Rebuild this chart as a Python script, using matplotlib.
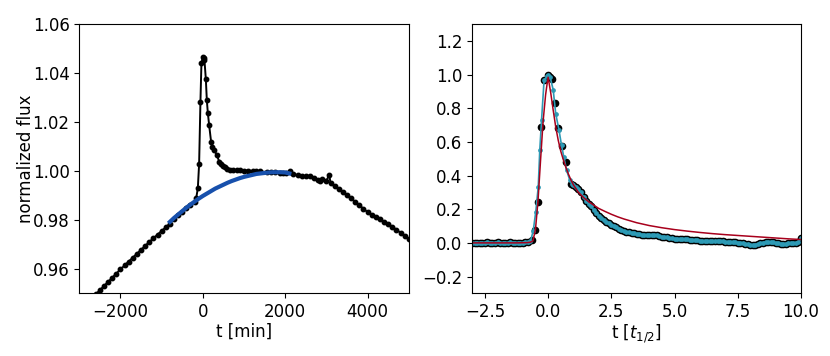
import numpy as np
import matplotlib
matplotlib.use("Agg")
import matplotlib.pyplot as plt
from matplotlib.ticker import MultipleLocator

# left panel: raw light curve [min] and normalized flux
t_left = [-2700, -2600, -2500, -2400, -2300, -2200, -2100, -2000, -1900, -1800,
          -1700, -1600, -1500, -1400, -1300, -1200, -1100, -1000, -900, -800,
          -700, -600, -500, -400, -300, -200, -160, -121, -90, -58,
          -34, 0, 20, 39, 73, 97, 121, 153, 201, 233,
          282, 340, 403, 450, 485, 530, 583, 650, 743, 820,
          905, 1000, 1100, 1228, 1300, 1400, 1553, 1650, 1750, 1876,
          1950, 2030, 2119, 2200, 2300, 2400, 2500, 2600, 2700, 2800,
          2850, 2900, 3000, 3070, 3100, 3200, 3300, 3400, 3500, 3600,
          3700, 3800, 3900, 4000, 4100, 4200, 4300, 4400, 4500, 4600,
          4700, 4800, 4900, 5000]
f_left = [0.9478, 0.9496, 0.9513, 0.9530, 0.9547, 0.9564, 0.9581, 0.9598, 0.9614, 0.9630,
          0.9646, 0.9662, 0.9678, 0.9694, 0.9710, 0.9725, 0.9740, 0.9755, 0.9770, 0.9785,
          0.9805, 0.9820, 0.9834, 0.9848, 0.9862, 0.9875, 0.9890, 0.9930, 1.0030, 1.0283,
          1.0440, 1.0464, 1.0462, 1.0454, 1.0375, 1.0290, 1.0238, 1.0188, 1.0119, 1.0098,
          1.0085, 1.0064, 1.0037, 1.0028, 1.0020, 1.0015, 1.0010, 1.0006, 1.0003, 1.0004,
          1.0003, 1.0002, 1.0002, 1.0000, 0.9999, 0.9998, 0.9996, 0.9995, 0.9994, 0.9992,
          0.9991, 0.9990, 1.0002, 0.9986, 0.9984, 0.9981, 0.9978, 0.9980, 0.9970, 0.9962,
          0.9958, 0.9966, 0.9960, 0.9985, 0.9950, 0.9937, 0.9927, 0.9914, 0.9902, 0.9888,
          0.9874, 0.9860, 0.9846, 0.9832, 0.9822, 0.9812, 0.9803, 0.9793, 0.9784, 0.9772,
          0.9760, 0.9748, 0.9736, 0.9723]

# quiescent fit under the flare
t_fit = [-800, -700, -600, -500, -400, -300, -200, -100, 0, 100,
         200, 300, 400, 500, 600, 700, 800, 900, 1000, 1100,
         1200, 1300, 1400, 1500, 1600, 1700, 1800, 1900, 2000, 2100]
f_fit = [0.9792, 0.9808, 0.9822, 0.9836, 0.9850, 0.9863, 0.9875, 0.9887, 0.9898, 0.9908,
         0.9918, 0.9928, 0.9936, 0.9944, 0.9952, 0.9959, 0.9965, 0.9971, 0.9976, 0.9980,
         0.9984, 0.9988, 0.9990, 0.9992, 0.9994, 0.9995, 0.9995, 0.9995, 0.9994, 0.9990]

# right panel: normalized flare, time in units of t_1/2
t_pre = [-3.0, -2.9, -2.8, -2.7, -2.6, -2.5, -2.4, -2.3, -2.2, -2.1, -2.0, -1.9,
         -1.8, -1.7, -1.6, -1.5, -1.4, -1.3, -1.2, -1.1, -1.0, -0.9, -0.8]
f_pre = [0.000, -0.002, 0.001, -0.003, -0.001, 0.002, 0.004, 0.001, -0.002, 0.000, 0.003, 0.002,
         -0.001, -0.003, 0.000, 0.005, 0.001, -0.002, -0.003, -0.001, 0.002, 0.004, 0.006]

t_peak_bin = [-0.655, -0.525, -0.42, -0.29, -0.16, 0.0, 0.08, 0.16, 0.28, 0.41, 0.55, 0.69, 0.92]
f_peak_bin = [0.016, 0.075, 0.244, 0.69, 0.967, 1.0, 0.985, 0.977, 0.83, 0.68, 0.575, 0.48, 0.35]

t_peak_fast = [-0.7, -0.59, -0.49, -0.39, -0.33, -0.26, -0.16, -0.05, 0.0, 0.08, 0.2, 0.30,
               0.43, 0.53, 0.62, 0.73, 0.86, 0.95]
f_peak_fast = [0.010, 0.07, 0.184, 0.333, 0.551, 0.729, 0.967, 0.99, 1.0, 0.985, 0.911, 0.769,
               0.67, 0.58, 0.511, 0.432, 0.372, 0.35]

t_tail = [1.0, 1.1, 1.2, 1.3, 1.4, 1.5, 1.6, 1.7, 1.8, 1.9,
          2.0, 2.1, 2.2, 2.3, 2.4, 2.5, 2.6, 2.7, 2.8, 2.9,
          3.0, 3.1, 3.2, 3.3, 3.4, 3.5, 3.6, 3.7, 3.8, 3.9,
          4.0, 4.1, 4.2, 4.3, 4.4, 4.5, 4.6, 4.7, 4.8, 4.9,
          5.0, 5.1, 5.2, 5.3, 5.4, 5.5, 5.6, 5.7, 5.8, 5.9,
          6.0, 6.1, 6.2, 6.3, 6.4, 6.5, 6.6, 6.7, 6.8, 6.9,
          7.0, 7.1, 7.2, 7.3, 7.4, 7.5, 7.6, 7.7, 7.8, 7.9,
          8.0, 8.1, 8.2, 8.3, 8.4, 8.5, 8.6, 8.7, 8.8, 8.9,
          9.0, 9.1, 9.2, 9.3, 9.4, 9.5, 9.6, 9.7, 9.8, 9.9, 10.0]
f_tail = [0.345, 0.335, 0.318, 0.300, 0.275, 0.250, 0.232, 0.218, 0.196, 0.180,
          0.160, 0.148, 0.135, 0.127, 0.117, 0.108, 0.100, 0.092, 0.085, 0.078,
          0.072, 0.066, 0.062, 0.058, 0.056, 0.054, 0.051, 0.049, 0.047, 0.046,
          0.046, 0.047, 0.048, 0.044, 0.040, 0.037, 0.035, 0.033, 0.030, 0.028,
          0.026, 0.025, 0.024, 0.023, 0.022, 0.021, 0.020, 0.019, 0.018, 0.016,
          0.014, 0.012, 0.011, 0.010, 0.009, 0.010, 0.012, 0.014, 0.011, 0.009,
          0.008, 0.007, 0.006, 0.005, 0.003, 0.002, 0.000, -0.002, -0.004, -0.008,
          -0.010, -0.012, -0.010, -0.006, -0.002, 0.002, 0.005, 0.007, 0.006, 0.003,
          0.000, -0.002, -0.004, -0.005, -0.004, -0.002, -0.001, 0.000, 0.002, 0.006, 0.030]

# flare template model
t_model = [-3.0, -2.0, -1.2, -1.0, -0.9, -0.8, -0.7, -0.6, -0.5, -0.4,
           -0.3, -0.2, -0.1, -0.05, 0.0, 0.05, 0.1, 0.2, 0.3, 0.4,
           0.5, 0.6, 0.7, 0.8, 0.9, 1.0, 1.2, 1.4, 1.6, 1.8,
           2.0, 2.25, 2.5, 2.75, 3.0, 3.5, 4.0, 4.5, 5.0, 5.5,
           6.0, 6.5, 7.0, 7.5, 8.0, 8.5, 9.0, 9.5, 10.0]
f_model = [0.0, 0.0, 0.0, 0.001, 0.001, 0.002, 0.004, 0.012, 0.08, 0.25,
           0.49, 0.72, 0.88, 0.935, 0.985, 0.94, 0.895, 0.79, 0.69, 0.61,
           0.545, 0.495, 0.45, 0.41, 0.375, 0.345, 0.30, 0.27, 0.245, 0.225,
           0.205, 0.187, 0.17, 0.155, 0.142, 0.12, 0.103, 0.09, 0.079, 0.07,
           0.062, 0.055, 0.049, 0.044, 0.039, 0.034, 0.029, 0.024, 0.02]

plt.rcParams['font.size'] = 12

fig = plt.figure(figsize=(8.3, 3.56), dpi=100)
ax1 = fig.add_axes([0.0955, 0.176, 0.397, 0.756])
ax2 = fig.add_axes([0.569, 0.176, 0.396, 0.756])

ax1.plot(t_left, f_left, '-o', color='k', lw=1.4, ms=3.2)
ax1.plot(t_fit, f_fit, '-', color='#1750ac', lw=3)
ax1.set_xlim(-3000, 5000)
ax1.set_ylim(0.95, 1.06)
ax1.set_xlabel('t [min]', labelpad=1)
ax1.set_ylabel('normalized flux', labelpad=-2)

t_bin = t_pre + t_peak_bin + t_tail
f_bin = f_pre + f_peak_bin + f_tail
t_fast = t_pre + t_peak_fast + t_tail
f_fast = f_pre + f_peak_fast + f_tail

ax2.plot(t_bin, f_bin, 'o', color='k', ms=4.5)
ax2.plot(t_fast, f_fast, '-o', color='#2d9ab5', lw=1.2, ms=2.4)
ax2.plot(t_model, f_model, '-', color='#a8001c', lw=1.1)
ax2.set_xlim(-3, 10)
ax2.set_ylim(-0.3, 1.3)
ax2.xaxis.set_major_locator(MultipleLocator(2.5))
ax2.set_xlabel('t [$t_{1/2}$]', labelpad=1)

fig.savefig('out.png', dpi=100)
